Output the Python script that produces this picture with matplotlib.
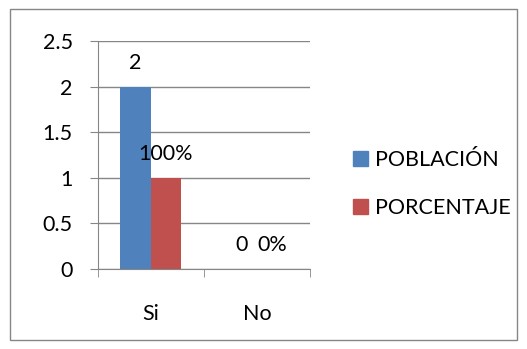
import matplotlib
matplotlib.use("Agg")
import matplotlib.pyplot as plt
from matplotlib.patches import Rectangle, Patch

# Survey answers: count of people and share of the total
categories = ["Si", "No"]
poblacion = [2, 0]
porcentaje = [1, 0]
porcentaje_labels = ["100%", "0%"]
series_names = ["POBLACIÓN", "PORCENTAJE"]
yticks = [0, 0.5, 1, 1.5, 2, 2.5]

plt.rcParams['font.family'] = ['Lato', 'DejaVu Sans']
plt.rcParams['font.size'] = 15.5

fig = plt.figure(figsize=(5.27, 3.49), dpi=100)
ax = fig.add_axes([97.7 / 527, 80 / 349, 212.3 / 527, 228 / 349])

blue = "#4F81BD"
red = "#C0504D"
grid = "#868686"
w = 0.287
x = list(range(len(categories)))

b1 = ax.bar([i - w / 2 for i in x], poblacion, w, color=blue)
b2 = ax.bar([i + w / 2 for i in x], porcentaje, w, color=red)

# value labels above each bar
for rect, v in zip(b1, poblacion):
    ax.annotate(str(v), (rect.get_x() + rect.get_width() / 2, v),
                xytext=(0, 24), textcoords="offset pixels",
                ha="center", va="center")
for rect, v, lab in zip(b2, porcentaje, porcentaje_labels):
    ax.annotate(lab, (rect.get_x() + rect.get_width() / 2, v),
                xytext=(0, 24), textcoords="offset pixels",
                ha="center", va="center")

ax.set_xlim(-0.5, len(categories) - 0.5)
ax.set_ylim(0, 2.5)
ax.set_yticks(yticks)
ax.set_yticklabels([f"{t:g}" for t in yticks])
ax.set_xticks(x)
ax.set_xticklabels(categories)
ax.set_xticks([i - 0.5 for i in range(len(categories) + 1)], minor=True)

ax.tick_params(axis="x", which="major", length=0, pad=25)
ax.tick_params(axis="x", which="minor", length=6, color=grid)
ax.tick_params(axis="y", length=6, color=grid, pad=12)

ax.yaxis.grid(True, color=grid, linewidth=1)
ax.set_axisbelow(True)
for s in ["top", "right"]:
    ax.spines[s].set_visible(False)
ax.spines["left"].set_color(grid)
ax.spines["bottom"].set_color(grid)

handles = [Patch(color=blue), Patch(color=red)]
fig.legend(handles, series_names, loc="center left",
           bbox_to_anchor=(334 / 527, 1 - 184 / 349), frameon=False,
           handlelength=0.7, handleheight=0.7, handletextpad=0.3,
           labelspacing=1.3)

# chart frame
fig.patches.append(Rectangle((10 / 527, 9 / 349), 507 / 527, 331 / 349,
                             transform=fig.transFigure, fill=False,
                             edgecolor=grid, linewidth=1))

fig.savefig("out.png", dpi=100)
